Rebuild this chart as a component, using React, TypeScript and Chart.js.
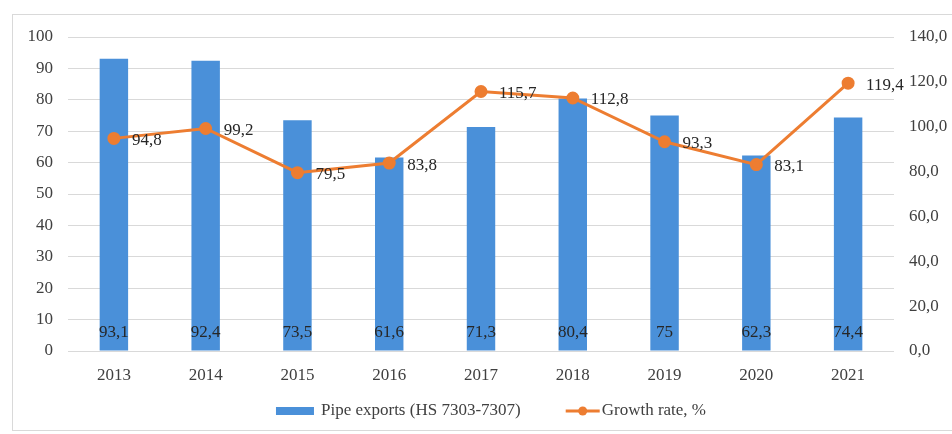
import React, { useEffect, useRef } from 'react';
import { Chart, registerables } from 'chart.js';

Chart.register(...registerables);

const years = ['2013', '2014', '2015', '2016', '2017', '2018', '2019', '2020', '2021'];
const pipeExports = [93.1, 92.4, 73.5, 61.6, 71.3, 80.4, 75, 62.3, 74.4];
const growthRate = [94.8, 99.2, 79.5, 83.8, 115.7, 112.8, 93.3, 83.1, 119.4];
const seriesNames = ['Pipe exports (HS 7303-7307)', 'Growth rate, %'];

const BLUE = '#4a90d9';
const ORANGE = '#ed7d31';
const FONT = '"Liberation Serif", "Times New Roman", serif';
const FS = 17;

const fmt = (v: number) => String(v).replace('.', ',');

const framePlugin = {
  id: 'frame',
  beforeDraw(chart: any) {
    const ctx = chart.ctx;
    ctx.save();
    ctx.fillStyle = '#ffffff';
    ctx.fillRect(0, 0, chart.width, chart.height);
    ctx.strokeStyle = '#d9d9d9';
    ctx.lineWidth = 1;
    ctx.strokeRect(12.5, 14.5, chart.width - 12, 416);
    ctx.restore();
  },
};

const labelPlugin = {
  id: 'valueLabels',
  afterDatasetsDraw(chart: any) {
    const ctx = chart.ctx;
    ctx.save();
    ctx.font = `${FS}px ${FONT}`;
    ctx.fillStyle = '#262626';
    const barMeta = chart.getDatasetMeta(0);
    const barData = chart.data.datasets[0].data as number[];
    ctx.textAlign = 'center';
    ctx.textBaseline = 'middle';
    barMeta.data.forEach((el: any, i: number) => {
      ctx.fillText(fmt(barData[i]), el.x, el.base - 18);
    });
    const lineMeta = chart.getDatasetMeta(1);
    const lineData = chart.data.datasets[1].data as number[];
    ctx.textAlign = 'left';
    lineMeta.data.forEach((el: any, i: number) => {
      ctx.fillText(fmt(lineData[i]), el.x + 18, el.y + 2);
    });
    ctx.restore();
  },
};

const legendPlugin = {
  id: 'customLegend',
  afterDraw(chart: any) {
    const ctx = chart.ctx;
    const ds = chart.data.datasets;
    ctx.save();
    ctx.font = `${FS}px ${FONT}`;
    const t1 = ds[0].label as string;
    const t2 = ds[1].label as string;
    const w1 = ctx.measureText(t1).width;
    const w2 = ctx.measureText(t2).width;
    const boxW = 38;
    const lineW = 34;
    const total = boxW + 7 + w1 + 45 + lineW + 2 + w2;
    let x = 491 - total / 2;
    const y = 411;
    ctx.fillStyle = ds[0].backgroundColor;
    ctx.fillRect(x, y - 4, boxW, 8);
    x += boxW + 7;
    ctx.fillStyle = '#404040';
    ctx.textAlign = 'left';
    ctx.textBaseline = 'middle';
    ctx.fillText(t1, x, y);
    x += w1 + 45;
    ctx.strokeStyle = ds[1].borderColor;
    ctx.lineWidth = 3;
    ctx.beginPath();
    ctx.moveTo(x, y);
    ctx.lineTo(x + lineW, y);
    ctx.stroke();
    ctx.fillStyle = ds[1].borderColor;
    ctx.beginPath();
    ctx.arc(x + lineW / 2, y, 4.5, 0, Math.PI * 2);
    ctx.fill();
    x += lineW + 2;
    ctx.fillStyle = '#404040';
    ctx.fillText(t2, x, y);
    ctx.restore();
  },
};

export default function App() {
  const ref = useRef<HTMLCanvasElement | null>(null);

  useEffect(() => {
    document.body.style.margin = '0';
    if (!ref.current) return;
    const chart = new Chart(ref.current, {
      type: 'bar',
      data: {
        labels: years,
        datasets: [
          {
            type: 'bar',
            label: seriesNames[0],
            data: pipeExports,
            backgroundColor: BLUE,
            yAxisID: 'y',
            order: 2,
            categoryPercentage: 1,
            barPercentage: 0.31,
          },
          {
            type: 'line',
            label: seriesNames[1],
            data: growthRate,
            borderColor: ORANGE,
            backgroundColor: ORANGE,
            borderWidth: 3,
            pointRadius: 5,
            pointBackgroundColor: ORANGE,
            pointBorderColor: ORANGE,
            yAxisID: 'y1',
            order: 1,
            tension: 0,
          },
        ] as any,
      },
      options: {
        responsive: false,
        animation: false,
        layout: { padding: { top: 37, right: 0, bottom: 39, left: 0 } },
        plugins: {
          legend: { display: false },
          tooltip: { enabled: false },
        },
        scales: {
          x: {
            grid: { display: false },
            border: { display: false },
            ticks: { color: '#404040', font: { family: FONT, size: FS }, padding: 6 },
            afterFit: (s: any) => { s.height = 44; },
          },
          y: {
            position: 'left',
            min: 0,
            max: 100,
            ticks: { stepSize: 10, color: '#404040', font: { family: FONT, size: FS }, padding: 15 },
            grid: { color: '#d9d9d9', drawTicks: false, lineWidth: 1 },
            border: { display: false },
            afterFit: (s: any) => { s.width = 68; },
          },
          y1: {
            position: 'right',
            min: 0,
            max: 140,
            ticks: {
              stepSize: 20,
              color: '#404040',
              font: { family: FONT, size: FS },
              padding: 15,
              callback: (v: any) => Number(v).toFixed(1).replace('.', ','),
            },
            grid: { display: false, drawTicks: false },
            border: { display: false },
            afterFit: (s: any) => { s.width = 58; },
          },
        },
      } as any,
      plugins: [framePlugin, labelPlugin, legendPlugin],
    });
    return () => chart.destroy();
  }, []);

  return (
    <div style={{ width: 952, height: 434 }}>
      <canvas ref={ref} width={952} height={434} />
    </div>
  );
}
